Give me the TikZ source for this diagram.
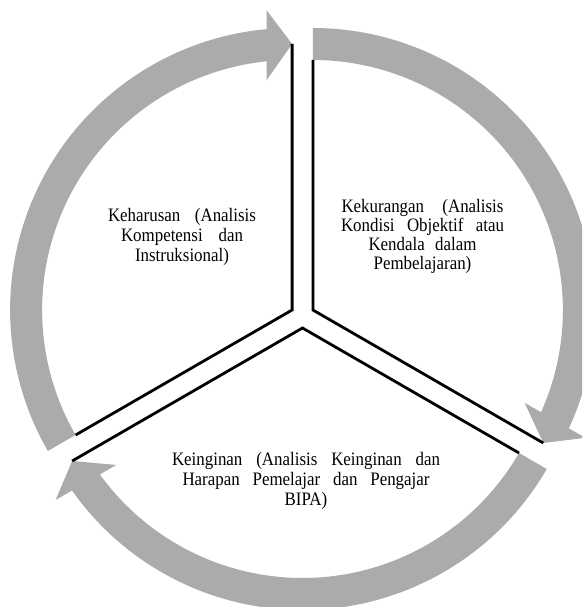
\documentclass[tikz,border=0pt]{standalone}
\usepackage{fontspec}
\setmainfont{Liberation Serif}[FakeStretch=0.89]
\usetikzlibrary{calc}
\definecolor{bandgray}{RGB}{171,171,171}
\begin{document}
\begin{tikzpicture}[x=1pt,y=1pt,
  band/.style={fill=bandgray},
  edge/.style={draw=black,line width=2.8pt,miter limit=10},
  lbl/.style={align=center,inner sep=0pt,text=black,font=\fontsize{19}{20}\selectfont}]
\useasboundingbox (0,0) rectangle (582,607);
\clip (0,0) rectangle (582,607);
% sector apexes
\coordinate (AL) at (292.1,297);
\coordinate (AR) at (312.9,297);
\coordinate (AB) at (302.5,279);
% gray arc arrows
\fill[band] ($(AL)+(210:282)$) arc[start angle=210,end angle=95.186,radius=282]
  -- ($(AL)+(95.5:266)+(90:35)$) -- ($(AL)+(90:266)$) -- ($(AL)+(95.5:266)+(270:35)$)
  -- ($(AL)+(95.853:250)$) arc[start angle=95.853,end angle=210,radius=250] -- cycle;
\fill[band] ($(AR)+(90:282)$) arc[start angle=90,end angle=-24.814,radius=282]
  -- ($(AR)+(-24.5:266)+(-30:35)$) -- ($(AR)+(-30:266)$) -- ($(AR)+(-24.5:266)+(150:35)$)
  -- ($(AR)+(-24.147:250)$) arc[start angle=-24.147,end angle=90,radius=250] -- cycle;
\fill[band] ($(AB)+(330:282)$) arc[start angle=330,end angle=215.186,radius=282]
  -- ($(AB)+(215.5:266)+(210:35)$) -- ($(AB)+(210:266)$) -- ($(AB)+(215.5:266)+(30:35)$)
  -- ($(AB)+(215.853:250)$) arc[start angle=215.853,end angle=330,radius=250] -- cycle;
% black sector edges
\draw[edge] ($(AL)+(210:250)$) -- (AL) -- ($(AL)+(90:266)$);
\draw[edge] ($(AR)+(90:250)$) -- (AR) -- ($(AR)+(-30:266)$);
\draw[edge] ($(AB)+(330:250)$) -- (AB) -- ($(AB)+(210:266)$);
% texts
\node[lbl] (keharusan) at (182,370.55)
  {\makebox[148pt][s]{Keharusan (Analisis}\\\makebox[122pt][s]{Kompetensi dan}\\Instruksional)};
\node[lbl,font=\fontsize{19}{18.7}\selectfont] (kekurangan) at (422.5,370.55)
  {\makebox[162pt][s]{Kekurangan (Analisis}\\\makebox[163pt][s]{Kondisi Objektif atau}\\\makebox[108pt][s]{Kendala dalam}\\Pembelajaran)};
\node[lbl] (keinginan) at (306,126.55)
  {\makebox[268pt][s]{Keinginan (Analisis Keinginan dan}\\\makebox[247pt][s]{Harapan Pemelajar dan Pengajar}\\BIPA)};
\end{tikzpicture}
\end{document}
